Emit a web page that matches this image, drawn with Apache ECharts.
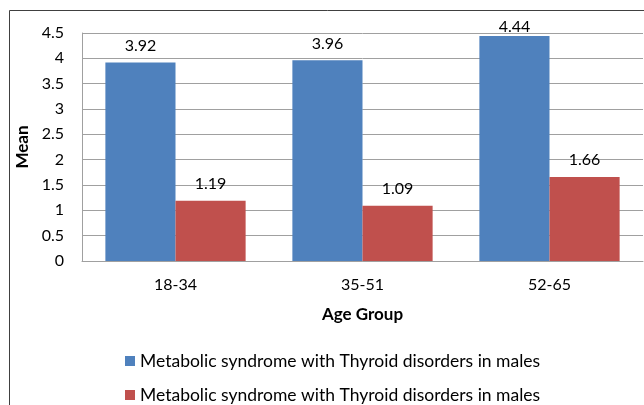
<!DOCTYPE html>
<html><head><meta charset="utf-8">
<script src="https://cdn.jsdelivr.net/npm/echarts@6/dist/echarts.min.js"></script>
<style>html,body{margin:0;padding:0;background:#fff}#c{width:644px;height:405px}</style>
</head><body><div id="c"></div>
<script>
const categories = ['18-34', '35-51', '52-65'];
const seriesNames = ['Metabolic syndrome with Thyroid disorders in males', 'Metabolic syndrome with Thyroid disorders in males\u200b'];
const blueValues = [3.92, 3.96, 4.44];
const redValues = [1.19, 1.09, 1.66];
const yTicks = [0, 0.5, 1, 1.5, 2, 2.5, 3, 3.5, 4, 4.5];

const font = 'Lato, "Open Sans", sans-serif';
const chart = echarts.init(document.getElementById('c'));
function mkData(vals, tightIdx) {
  return vals.map((v, i) => i === tightIdx ? { value: v, label: { distance: 1 } } : v);
}
const legendBase = {
  orient: 'horizontal', left: 120, itemWidth: 10, itemHeight: 10, icon: 'rect',
  textStyle: { fontFamily: font, fontSize: 17.5, color: '#000' },
  formatter: n => n.replace('\u200b', '')
};
chart.setOption({
  animation: false,
  graphic: [{ type: 'rect', shape: { x: 9.5, y: 10.5, width: 700, height: 500 }, style: { fill: 'none', stroke: '#404040', lineWidth: 1 } }],
  grid: { left: 82, right: 1, top: 33, bottom: 144, containLabel: false },
  legend: [
    Object.assign({}, legendBase, { top: 347, data: [seriesNames[0]] }),
    Object.assign({}, legendBase, { top: 381, data: [seriesNames[1]] })
  ],
  xAxis: {
    type: 'category', data: categories,
    name: 'Age Group', nameLocation: 'middle', nameGap: 45,
    nameTextStyle: { fontFamily: font, fontSize: 17, fontWeight: 'bold', color: '#000' },
    axisLine: { show: true, lineStyle: { color: '#A0A0A0' } },
    axisTick: { show: false },
    axisLabel: { fontFamily: font, fontSize: 16, color: '#000', margin: 16 }
  },
  yAxis: {
    type: 'value', min: 0, max: 4.5, interval: 0.5,
    name: 'Mean', nameLocation: 'middle', nameGap: 50,
    nameTextStyle: { fontFamily: font, fontSize: 17, fontWeight: 'bold', color: '#000' },
    axisLine: { show: true, lineStyle: { color: '#A0A0A0' } },
    axisTick: { show: false },
    splitLine: { lineStyle: { color: '#A0A0A0' } },
    axisLabel: { fontFamily: font, fontSize: 16, color: '#000', margin: 18, formatter: v => String(v) }
  },
  series: [
    { name: seriesNames[0], type: 'bar', data: mkData(blueValues, 2), barGap: '0%', barCategoryGap: '25%',
      itemStyle: { color: '#4F81BD' },
      label: { show: true, position: 'top', distance: 9, fontFamily: font, fontSize: 16, color: '#000' } },
    { name: seriesNames[1], type: 'bar', data: mkData(redValues, -1), barGap: '0%', barCategoryGap: '25%',
      itemStyle: { color: '#C0504D' },
      label: { show: true, position: 'top', distance: 9, fontFamily: font, fontSize: 16, color: '#000' } }
  ]
});
</script></body></html>
